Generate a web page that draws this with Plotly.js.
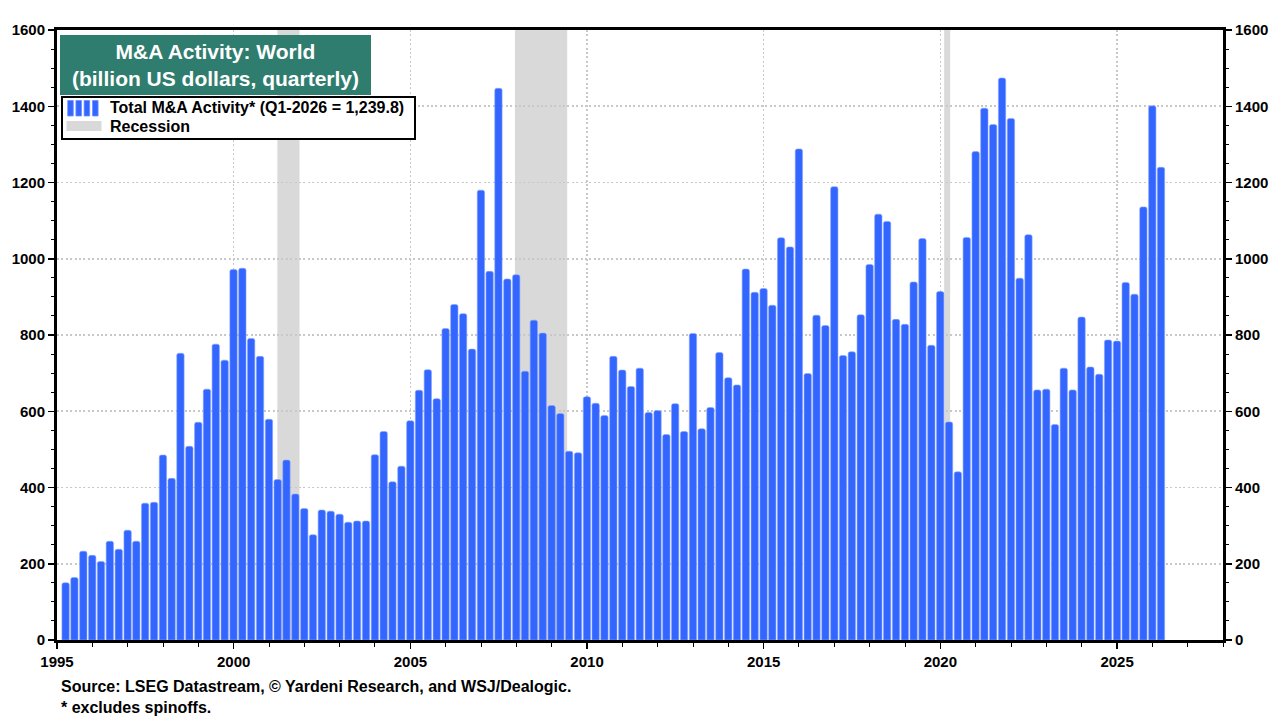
<!DOCTYPE html>
<html>
<head>
<meta charset="utf-8">
<script src="https://cdn.plot.ly/plotly-3.0.1.min.js"></script>
<style>
  html, body { margin: 0; padding: 0; background: #ffffff; }
  #chart { width: 1280px; height: 720px; }
</style>
</head>
<body>
<div id="chart"></div>
<script>
// Quarterly periods (quarter-end), Q1-1995 .. Q1-2026
const quarters = [
  "1995Q1","1995Q2","1995Q3","1995Q4",
  "1996Q1","1996Q2","1996Q3","1996Q4",
  "1997Q1","1997Q2","1997Q3","1997Q4",
  "1998Q1","1998Q2","1998Q3","1998Q4",
  "1999Q1","1999Q2","1999Q3","1999Q4",
  "2000Q1","2000Q2","2000Q3","2000Q4",
  "2001Q1","2001Q2","2001Q3","2001Q4",
  "2002Q1","2002Q2","2002Q3","2002Q4",
  "2003Q1","2003Q2","2003Q3","2003Q4",
  "2004Q1","2004Q2","2004Q3","2004Q4",
  "2005Q1","2005Q2","2005Q3","2005Q4",
  "2006Q1","2006Q2","2006Q3","2006Q4",
  "2007Q1","2007Q2","2007Q3","2007Q4",
  "2008Q1","2008Q2","2008Q3","2008Q4",
  "2009Q1","2009Q2","2009Q3","2009Q4",
  "2010Q1","2010Q2","2010Q3","2010Q4",
  "2011Q1","2011Q2","2011Q3","2011Q4",
  "2012Q1","2012Q2","2012Q3","2012Q4",
  "2013Q1","2013Q2","2013Q3","2013Q4",
  "2014Q1","2014Q2","2014Q3","2014Q4",
  "2015Q1","2015Q2","2015Q3","2015Q4",
  "2016Q1","2016Q2","2016Q3","2016Q4",
  "2017Q1","2017Q2","2017Q3","2017Q4",
  "2018Q1","2018Q2","2018Q3","2018Q4",
  "2019Q1","2019Q2","2019Q3","2019Q4",
  "2020Q1","2020Q2","2020Q3","2020Q4",
  "2021Q1","2021Q2","2021Q3","2021Q4",
  "2022Q1","2022Q2","2022Q3","2022Q4",
  "2023Q1","2023Q2","2023Q3","2023Q4",
  "2024Q1","2024Q2","2024Q3","2024Q4",
  "2025Q1","2025Q2","2025Q3","2025Q4",
  "2026Q1"
];

// Total M&A activity, world, billion US dollars
const maActivity = [
  150, 164, 233, 222,
  206, 259, 238, 288,
  259, 359, 361, 485,
  424, 752, 508, 571,
  658, 776, 734, 972,
  975, 791, 744, 579,
  421, 472, 383, 345,
  276, 341, 338, 330,
  309, 312, 312, 486,
  547, 415, 456, 575,
  655, 709, 633, 817,
  880, 856, 763, 1180,
  967, 1447, 947, 958,
  705, 839, 805, 615,
  594, 495, 491, 638,
  621, 589, 744, 708,
  665, 713, 597, 602,
  539, 620, 547, 804,
  554, 610, 754, 688,
  669, 973, 912, 922,
  878, 1055, 1031, 1288,
  699, 852, 825, 1189,
  746, 756, 853, 985,
  1117, 1098, 841, 828,
  939, 1053, 773, 914,
  572, 441, 1056, 1281,
  1395, 1352, 1474, 1368,
  949, 1063, 656, 658,
  565, 713, 656, 847,
  716, 697, 787, 784,
  938, 907, 1136, 1401,
  1239.8
];

// Recession periods
const recessionStart = ["2001-03-28", "2007-12-18", "2020-02-10"];
const recessionEnd   = ["2001-11-12", "2009-06-10", "2020-04-12"];

const yTicks = [0, 200, 400, 600, 800, 1000, 1200, 1400, 1600];

const titleText = "M&A Activity: World<br>(billion US dollars, quarterly)";
const legendMA = "Total M&A Activity* (Q1-2026 = 1,239.8)";
const legendRec = "Recession";
const sourceText = "Source: LSEG Datastream, © Yardeni Research, and WSJ/Dealogic.";
const noteText = "* excludes spinoffs.";

const qEnd = {Q1: "-03-31", Q2: "-06-30", Q3: "-09-30", Q4: "-12-31"};
const xDates = quarters.map(q => q.slice(0, 4) + qEnd[q.slice(4)]);

const FONT = "Liberation Sans, Arial, Helvetica, sans-serif";
const BLUE = "#3366ff";
const GREY = "#d9d9d9";

// plot area in pixels: x 57..1223, y 30..640
const PL = 57, PW = 1166, PB = 640, PH = 610;
const px = v => (v - PL) / PW;
const py = v => (PB - v) / PH;

const traces = [
  {
    type: "bar",
    x: xDates,
    y: maActivity,
    name: legendMA,
    showlegend: false,
    marker: { color: BLUE, line: { color: "#86a3ff", width: 0.6 }, cornerradius: 2 },
    hoverinfo: "x+y"
  },
  {
    type: "scatter", mode: "lines",
    x: [null], y: [null], yaxis: "y2",
    name: legendRec, showlegend: false, hoverinfo: "skip"
  }
];

const shapes = recessionStart.map((s, i) => ({
  type: "rect", xref: "x", yref: "paper",
  x0: s, x1: recessionEnd[i], y0: 0, y1: 1,
  fillcolor: GREY, line: { width: 0 }, layer: "below"
}));

// legend box and key symbols
shapes.push({
  type: "rect", xref: "paper", yref: "paper",
  x0: px(62), x1: px(415), y0: py(139), y1: py(97),
  fillcolor: "#ffffff", line: { color: "#000", width: 2 }, layer: "above"
});
[70.5, 78.7, 86.9, 95.3].forEach(c => {
  shapes.push({
    type: "rect", xref: "paper", yref: "paper",
    x0: px(c - 2.8), x1: px(c + 2.8), y0: py(116), y1: py(100.5),
    fillcolor: BLUE, line: { color: "#6d8fff", width: 0.8 }, layer: "above"
  });
});
shapes.push({
  type: "rect", xref: "paper", yref: "paper",
  x0: px(66.5), x1: px(101.5), y0: py(131), y1: py(121),
  fillcolor: GREY, line: { width: 0 }, layer: "above"
});

const tickFont = { family: FONT, size: 15, color: "#000", weight: "bold" };
const GRID = { showgrid: true, gridcolor: "#c8c8c8", gridwidth: 1.6, griddash: "2px,2.4px" };

const yCommon = {
  range: [0, 1600],
  tickvals: yTicks,
  ticktext: yTicks.map(String),
  ticks: "outside", ticklen: 6, tickwidth: 1.5, tickcolor: "#000",
  minor: { dtick: 50, ticks: "outside", ticklen: 3, tickwidth: 1, tickcolor: "#000", showgrid: false },
  showline: true, linewidth: 3, linecolor: "#000",
  zeroline: false,
  tickfont: tickFont,
  fixedrange: true
};

const legendFont = { family: FONT, size: 16, color: "#000", weight: "bold" };
const noteFont = { family: FONT, size: 16, color: "#000", weight: "bold" };

const layout = {
  width: 1280, height: 720,
  margin: { l: 57, r: 57, t: 30, b: 80, pad: 0 },
  paper_bgcolor: "#ffffff",
  plot_bgcolor: "#ffffff",
  font: { family: FONT, color: "#000" },
  bargap: 0.16,
  showlegend: false,
  xaxis: Object.assign({
    type: "date",
    range: ["1995-01-01", "2028-01-01"],
    tick0: "1995-01-01", dtick: "M60", tickformat: "%Y",
    ticks: "outside", ticklen: 6, tickwidth: 1.5, tickcolor: "#000",
    minor: { tick0: "1995-01-01", dtick: "M12", ticks: "outside", ticklen: 4, tickwidth: 1, tickcolor: "#000", showgrid: false },
    showline: true, linewidth: 3, linecolor: "#000", mirror: true,
    zeroline: false,
    tickfont: tickFont,
    fixedrange: true
  }, GRID),
  yaxis: Object.assign({}, yCommon, { side: "left", mirror: true }, GRID),
  yaxis2: Object.assign({}, yCommon, {
    overlaying: "y", side: "right", anchor: "x", showgrid: false
  }),
  shapes: shapes,
  annotations: [
    {
      xref: "paper", yref: "paper", x: px(60), y: py(35),
      xanchor: "left", yanchor: "top",
      text: titleText, showarrow: false,
      width: 311, height: 60, align: "center", valign: "middle",
      bgcolor: "#2e7d6e", borderpad: 0, borderwidth: 0,
      font: { family: FONT, size: 21, color: "#ffffff", weight: "bold" }
    },
    {
      xref: "paper", yref: "paper", x: px(108), y: py(107.5),
      xanchor: "left", yanchor: "middle",
      text: legendMA, showarrow: false, align: "left",
      font: legendFont
    },
    {
      xref: "paper", yref: "paper", x: px(108), y: py(126),
      xanchor: "left", yanchor: "middle",
      text: legendRec, showarrow: false, align: "left",
      font: legendFont
    },
    {
      xref: "paper", yref: "paper", x: px(59), y: py(686),
      xanchor: "left", yanchor: "middle",
      text: sourceText, showarrow: false, align: "left",
      font: noteFont
    },
    {
      xref: "paper", yref: "paper", x: px(59), y: py(707),
      xanchor: "left", yanchor: "middle",
      text: noteText, showarrow: false, align: "left",
      font: noteFont
    }
  ]
};

Plotly.newPlot("chart", traces, layout, { displayModeBar: false, staticPlot: true });
</script>
</body>
</html>
